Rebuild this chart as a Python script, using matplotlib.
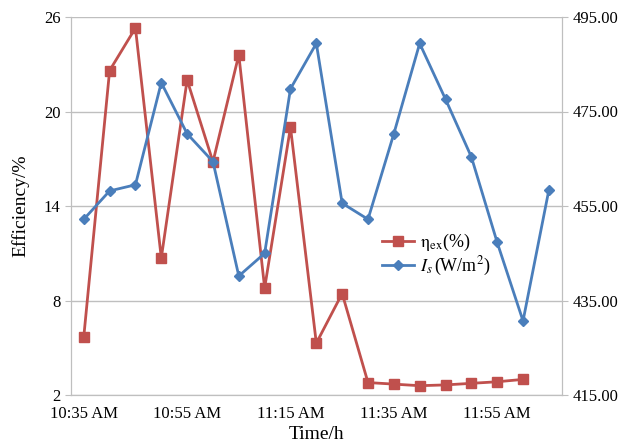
import numpy as np
import matplotlib
matplotlib.use("Agg")
import matplotlib.pyplot as plt

plt.rcParams['font.family'] = ['Liberation Serif', 'DejaVu Serif']
plt.rcParams['mathtext.fontset'] = 'stix'

# time stamps every 5 min
times = ["10:35", "10:40", "10:45", "10:50", "10:55", "11:00", "11:05", "11:10",
         "11:15", "11:20", "11:25", "11:30", "11:35", "11:40", "11:45", "11:50",
         "11:55", "12:00", "12:05"]
eta_ex = [5.7, 22.6, 25.3, 10.7, 22.0, 16.8, 23.6, 8.8, 19.0, 5.3, 8.45,
          2.8, 2.7, 2.6, 2.65, 2.75, 2.85, 3.0]
I_s = [452.2, 458.2, 459.5, 481.1, 470.3, 464.4, 440.2, 445.0, 479.8, 489.4,
       455.6, 452.2, 470.3, 489.4, 477.6, 465.4, 447.3, 430.7, 458.4]
tick_labels = ["10:35 AM", "10:55 AM", "11:15 AM", "11:35 AM", "11:55 AM"]
tick_idx = [0, 4, 8, 12, 16]

red = "#C0504D"
blue = "#4A7EBB"
grey = "#BFBFBF"

fig = plt.figure(figsize=(6.27, 4.46), dpi=100)
ax = fig.add_axes([0.113, 0.114, 0.783, 0.848])
ax2 = ax.twinx()

x_red = np.arange(len(eta_ex))
x_blue = np.arange(len(I_s))
l1, = ax.plot(x_red, eta_ex, color=red, marker="s", markersize=7, linewidth=2,
              label=r"$\mathrm{\eta_{ex}}$(%)")
l2, = ax2.plot(x_blue, I_s, color=blue, marker="D", markersize=5, linewidth=2,
               label=r"$I_s\,$(W/m$^2$)")

ax.set_xlim(-0.5, len(times) - 0.5)
ax.set_ylim(2, 26)
ax.set_yticks([2, 8, 14, 20, 26])
ax2.set_ylim(415, 495)
ax2.set_yticks([415, 435, 455, 475, 495])
ax2.set_yticklabels([f"{v:.2f}" for v in [415, 435, 455, 475, 495]])
ax.set_xticks(tick_idx)
ax.set_xticklabels(tick_labels)

ax.grid(axis="y", color=grey, linewidth=1)
ax.set_axisbelow(True)
for a in (ax, ax2):
    for s in a.spines.values():
        s.set_color(grey)
    a.spines["top"].set_visible(False)
    a.tick_params(colors=grey, labelcolor="black", labelsize=12, length=4)
ax.tick_params(axis="x", length=0, pad=8)

ax.set_xlabel("Time/h", fontsize=14, labelpad=3)
ax.set_ylabel("Efficiency/%", fontsize=14, labelpad=10)

leg = ax.legend(handles=[l1, l2], loc="center left", bbox_to_anchor=(0.6, 0.37),
                frameon=False, fontsize=13, handlelength=1.8, handletextpad=0.3,
                labelspacing=0.1)

fig.savefig("out.png", dpi=100)
